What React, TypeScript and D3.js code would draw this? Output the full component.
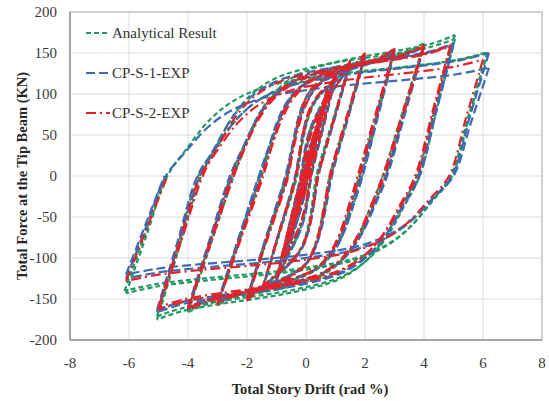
import React from 'react';
import * as d3 from 'd3';

const xTicks = [-8, -6, -4, -2, 0, 2, 4, 6, 8];
const yTicks = [-200, -150, -100, -50, 0, 50, 100, 150, 200];

// Normalised shape of a reversal branch after it crosses zero force (read from the loops)
const profileT = [0, 0.06, 0.13, 0.2, 0.3, 0.45, 0.6, 0.75, 0.9, 1.0];
const profileF = [0, 0.22, 0.45, 0.6, 0.72, 0.8, 0.85, 0.89, 0.94, 1.0];

// cycles: [posDrift, posForce, zeroCrossDown, negDrift, negForce, zeroCrossUp, curvature]
const analytical = [
  [0.375, 55, 0.02, -0.375, -57, -0.02, 0],
  [0.375, 55, 0.02, -0.375, -57, -0.02, 0],
  [0.5, 74, 0.03, -0.5, -77, -0.03, 0],
  [0.5, 74, 0.03, -0.5, -77, -0.03, 0],
  [0.75, 104, 0.05, -0.75, -108, -0.08, 0.2],
  [0.75, 103, 0.05, -0.75, -107, -0.08, 0.2],
  [1.0, 124, 0.15, -1.0, -128, -0.15, 0.5],
  [1.0, 122, 0.15, -1.0, -126, -0.15, 0.5],
  [1.5, 140, 0.35, -1.5, -142, -0.3, 0.8],
  [1.5, 138, 0.38, -1.5, -140, -0.33, 0.8],
  [2.0, 147, 0.8, -2.0, -150, -0.62, 1],
  [2.0, 145, 0.85, -2.0, -148, -0.68, 1],
  [3.0, 155, 1.8, -3.0, -158, -1.5, 1],
  [3.0, 153, 1.9, -3.0, -156, -1.58, 1],
  [4.0, 162, 2.6, -4.0, -166, -2.45, 1],
  [4.0, 160, 2.7, -4.0, -163, -2.55, 1],
  [5.05, 172, 3.75, -5.05, -175, -3.55, 1],
  [5.05, 167, 3.85, -5.05, -171, -3.65, 1],
  [6.15, 151, 4.9, -6.1, -143, -4.7, 1],
  [6.15, 150, 4.95, -6.15, -140, -4.75, 1],
];

const cps1 = [
  [0.375, 52, 0.03, -0.375, -55, -0.03, 0],
  [0.375, 52, 0.03, -0.375, -55, -0.03, 0],
  [0.5, 72, 0.04, -0.5, -76, -0.04, 0],
  [0.5, 72, 0.04, -0.5, -76, -0.04, 0],
  [0.75, 100, 0.07, -0.75, -106, -0.08, 0.2],
  [0.75, 100, 0.07, -0.75, -105, -0.08, 0.2],
  [1.0, 120, 0.18, -1.0, -127, -0.18, 0.5],
  [1.0, 119, 0.18, -1.0, -126, -0.18, 0.5],
  [1.5, 137, 0.4, -1.5, -142, -0.35, 0.8],
  [1.5, 136, 0.42, -1.5, -141, -0.37, 0.8],
  [2.0, 146, 0.85, -2.0, -150, -0.65, 1],
  [2.0, 144, 0.88, -2.0, -148, -0.7, 1],
  [3.0, 153, 1.85, -3.0, -156, -1.55, 1],
  [3.0, 151, 1.92, -3.0, -154, -1.6, 1],
  [4.0, 158, 2.7, -4.0, -162, -2.5, 1],
  [4.0, 157, 2.75, -4.0, -160, -2.58, 1],
  [5.0, 162, 3.8, -5.05, -166, -3.6, 1],
  [5.0, 160, 3.85, -5.05, -163, -3.68, 1],
  [6.2, 150, 4.95, -6.1, -125, -4.75, 1],
  [6.2, 132, 5.0, -6.1, -120, -4.8, 1],
];

const cps2 = [
  [0.375, 55, 0.02, -0.4, -55, -0.03, 0],
  [0.375, 56, 0.04, -0.42, -56, -0.05, 0],
  [0.4, 57, 0.0, -0.4, -55, 0.0, 0],
  [0.5, 78, 0.03, -0.55, -78, -0.04, 0],
  [0.52, 80, 0.06, -0.58, -80, -0.07, 0],
  [0.5, 78, 0.0, -0.55, -78, 0.0, 0],
  [0.55, 82, 0.08, -0.6, -82, -0.08, 0],
  [0.75, 106, 0.05, -0.8, -100, -0.06, 0.1],
  [0.72, 105, 0.09, -0.78, -99, -0.1, 0.1],
  [0.75, 106, 0.02, -0.8, -100, -0.02, 0.1],
  [0.7, 104, 0.12, -0.82, -98, -0.12, 0.1],
  [0.75, 105, 0.0, -0.78, -97, 0.0, 0.1],
  [1.0, 126, 0.15, -1.0, -125, -0.15, 0.4],
  [1.0, 124, 0.16, -1.0, -124, -0.16, 0.4],
  [1.5, 141, 0.4, -1.5, -140, -0.33, 0.8],
  [1.5, 140, 0.42, -1.5, -139, -0.35, 0.8],
  [2.0, 150, 0.8, -2.0, -152, -0.6, 1],
  [2.0, 148, 0.84, -2.0, -150, -0.64, 1],
  [3.0, 156, 1.75, -3.0, -157, -1.45, 1],
  [3.0, 154, 1.82, -3.0, -155, -1.5, 1],
  [4.0, 160, 2.6, -4.0, -163, -2.45, 1],
  [4.0, 158, 2.66, -4.0, -161, -2.52, 1],
  [4.9, 160, 3.7, -5.0, -163, -3.5, 1],
  [4.9, 158, 3.76, -5.0, -160, -3.58, 1],
  [6.0, 142, 4.85, -6.1, -128, -4.7, 1],
];

const seriesNames = ['Analytical Result', 'CP-S-1-EXP', 'CP-S-2-EXP'];
const seriesData = [analytical, cps1, cps2];
const seriesColors = ['#239a62', '#3a6cb2', '#e5222a'];
const seriesDash = ['5 3', '9 4', '10 4 2 4'];

type Pt = [number, number];

function branchesOf(cycles: number[][]): Pt[][] {
  const out: Pt[][] = [];
  const first = cycles[0];
  out.push([[0, 0], [first[0] / 2, first[1] / 2], [first[0], first[1]]]);
  cycles.forEach((c, i) => {
    const [ap, fp, zd, an, fn, zu, s] = c;
    const down: Pt[] = [[ap, fp], [(ap + zd) / 2, fp / 2], [zd, 0]];
    for (let k = 1; k < profileT.length; k++) {
      const f = s * profileF[k] + (1 - s) * profileT[k];
      down.push([zd + profileT[k] * (an - zd), fn * f]);
    }
    out.push(down);
    const next = cycles[i + 1];
    const up: Pt[] = [[an, fn], [(an + zu) / 2, fn / 2], [zu, 0]];
    if (next) {
      const [np, nf] = next;
      for (let k = 1; k < profileT.length; k++) {
        const f = s * profileF[k] + (1 - s) * profileT[k];
        up.push([zu + profileT[k] * (np - zu), nf * f]);
      }
    }
    out.push(up);
  });
  return out;
}

export default function App() {
  const left = 70, right = 542, top = 12, bottom = 340;
  const x = d3.scaleLinear().domain([-8, 8]).range([left, right]);
  const y = d3.scaleLinear().domain([-200, 200]).range([bottom, top]);
  const line = d3
    .line<Pt>()
    .x((d) => x(d[0]))
    .y((d) => y(d[1]))
    .curve(d3.curveCatmullRom.alpha(0.5));
  const font = "'Liberation Serif', 'Times New Roman', serif";

  return (
    <svg width={549} height={401} style={{ position: 'absolute', left: 0, top: 0, background: '#fff' }}>
      <rect x={0} y={0} width={549} height={401} fill="#fff" />
      {xTicks.map((t) => (
        <line key={'gx' + t} x1={x(t)} x2={x(t)} y1={top} y2={bottom} stroke="#dcdcdc" strokeWidth={1} />
      ))}
      {yTicks.map((t) => (
        <line key={'gy' + t} x1={left} x2={right} y1={y(t)} y2={y(t)} stroke="#dcdcdc" strokeWidth={1} />
      ))}
      <rect x={left} y={top} width={right - left} height={bottom - top} fill="none" stroke="#bdbdbd" strokeWidth={1.2} />
      <line x1={left} x2={left} y1={top} y2={bottom} stroke="#9a9a9a" strokeWidth={1.6} />
      <line x1={left} x2={right} y1={bottom} y2={bottom} stroke="#9a9a9a" strokeWidth={1.6} />

      {seriesData.map((cycles, si) => (
        <g key={'s' + si}>
          {branchesOf(cycles).map((b, bi) => (
            <path
              key={bi}
              d={line(b) || ''}
              fill="none"
              stroke={seriesColors[si]}
              strokeWidth={2.2}
              strokeDasharray={seriesDash[si]}
            />
          ))}
        </g>
      ))}

      {yTicks.map((t) => (
        <text key={'ty' + t} x={57} y={y(t) + 5} textAnchor="end" fontFamily={font} fontSize={15} fill="#3a3a3a">
          {t}
        </text>
      ))}
      {xTicks.map((t) => (
        <text key={'tx' + t} x={x(t)} y={368} textAnchor="middle" fontFamily={font} fontSize={15} fill="#3a3a3a">
          {t}
        </text>
      ))}
      <text x={310} y={394} textAnchor="middle" fontFamily={font} fontSize={14.5} fontWeight="bold" fill="#262626">
        Total Story Drift (rad %)
      </text>
      <text
        transform={`translate(27, ${176}) rotate(-90)`}
        textAnchor="middle"
        fontFamily={font}
        fontSize={14.5}
        fontWeight="bold"
        fill="#262626"
      >
        Total Force at the Tip Beam (KN)
      </text>

      {seriesNames.map((n, i) => (
        <g key={'lg' + i}>
          <line
            x1={86}
            x2={110}
            y1={33 + i * 40}
            y2={33 + i * 40}
            stroke={seriesColors[i]}
            strokeWidth={2.2}
            strokeDasharray={seriesDash[i]}
          />
          <text x={112} y={33 + i * 40 + 5} fontFamily={font} fontSize={15} fill="#333">
            {n}
          </text>
        </g>
      ))}
    </svg>
  );
}
